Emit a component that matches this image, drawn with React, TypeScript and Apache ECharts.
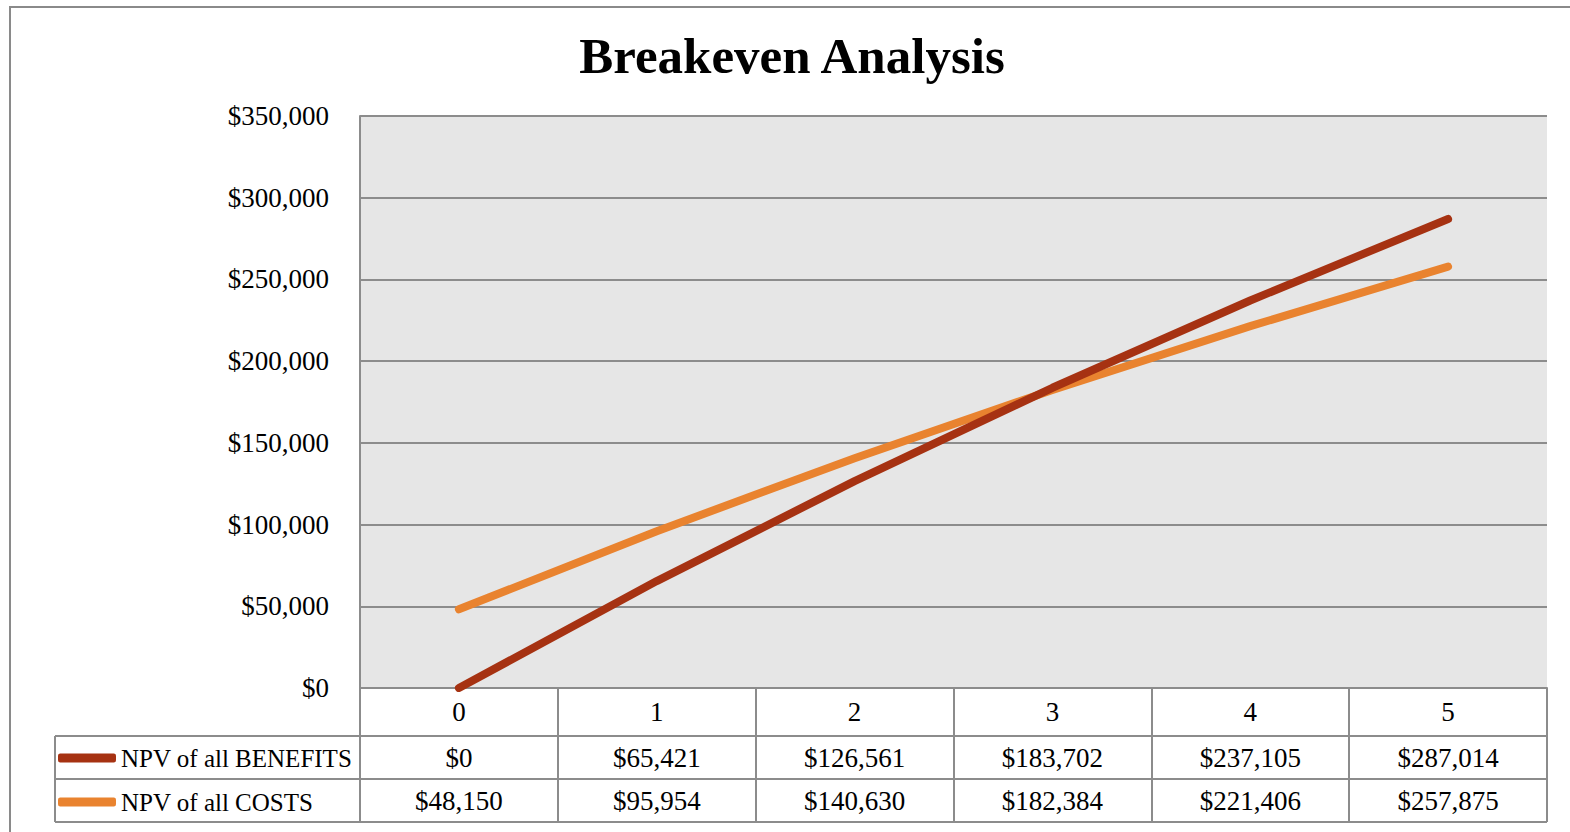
import React, { useEffect, useRef } from "react";
import * as echarts from "echarts";

const categories = ["0", "1", "2", "3", "4", "5"];
const benefitsName = "NPV of all BENEFITS";
const costsName = "NPV of all COSTS";
const benefits = [0, 65421, 126561, 183702, 237105, 287014];
const costs = [48150, 95954, 140630, 182384, 221406, 257875];
const yMin = 0;
const yMax = 350000;
const yInterval = 50000;

const FONT = "'Liberation Serif', 'Times New Roman', serif";
const BORDER = "#8c8c8c";
const C_BEN = "#a63212";
const C_COST = "#e9832f";

const fmt = (v: number) => "$" + v.toLocaleString("en-US");

// layout
const W = 1570;
const H = 832;
const GL = 360;
const GR = 1547;
const GT = 116;
const GB = 688;
const ROW0 = 48;
const ROW = 43;
const TABLE_LEFT = 55;

export default function App() {
  const ref = useRef<HTMLDivElement>(null);
  useEffect(() => {
    if (!ref.current) return;
    const chart = echarts.init(ref.current, undefined, { renderer: "svg" });
    const r1 = GB + ROW0;
    const r2 = r1 + ROW;
    const r3 = r2 + ROW;
    const lineStyle = { stroke: BORDER, lineWidth: 2 };
    const tableAxis = (data: string[], offset: number, len: number, margin: number) => ({
      type: "category",
      data,
      position: "bottom",
      offset,
      boundaryGap: true,
      axisLine: { show: true, lineStyle: { color: BORDER, width: 2 } },
      axisTick: { show: true, length: len, alignWithLabel: false, lineStyle: { color: BORDER, width: 2 } },
      axisLabel: {
        interval: 0,
        margin,
        verticalAlign: "middle",
        fontFamily: FONT,
        fontSize: 27,
        color: "#000",
      },
      splitLine: { show: false },
    });
    chart.setOption({
      animation: false,
      backgroundColor: "#ffffff",
      title: {
        text: "Breakeven Analysis",
        left: 792,
        textAlign: "center",
        top: 31,
        padding: 0,
        textStyle: { fontFamily: FONT, fontSize: 51, fontWeight: "bold", color: "#000", lineHeight: 50 },
      },
      legend: {
        data: [benefitsName, costsName],
        orient: "vertical",
        left: TABLE_LEFT + 3,
        top: r1 + ROW / 2 - 12,
        padding: 0,
        itemWidth: 58,
        itemHeight: 9,
        itemGap: ROW - 24,
        icon: "roundRect",
        textStyle: { fontFamily: FONT, fontSize: 25, lineHeight: 24, color: "#000" },
      },
      grid: {
        left: GL,
        right: W - GR,
        top: GT,
        bottom: H - GB,
        show: true,
        backgroundColor: "#e6e6e6",
        borderWidth: 0,
      },
      xAxis: [
        tableAxis(categories, 0, ROW0, ROW0 / 2),
        tableAxis(benefits.map(fmt), ROW0, ROW, ROW / 2),
        tableAxis(costs.map(fmt), ROW0 + ROW, ROW, ROW / 2),
      ],
      yAxis: {
        type: "value",
        min: yMin,
        max: yMax,
        interval: yInterval,
        axisLine: { show: true, lineStyle: { color: BORDER, width: 2 } },
        axisTick: { show: false },
        axisLabel: {
          formatter: (v: number) => fmt(v),
          margin: 31,
          fontFamily: FONT,
          fontSize: 27,
          color: "#000",
        },
        splitLine: { show: true, lineStyle: { color: BORDER, width: 2 } },
      },
      series: [
        {
          name: benefitsName,
          type: "line",
          data: benefits,
          xAxisIndex: 0,
          showSymbol: false,
          symbol: "none",
          color: C_BEN,
          lineStyle: { color: C_BEN, width: 8, cap: "round", join: "round" },
          itemStyle: { color: C_BEN },
          z: 3,
        },
        {
          name: costsName,
          type: "line",
          data: costs,
          xAxisIndex: 0,
          showSymbol: false,
          symbol: "none",
          color: C_COST,
          lineStyle: { color: C_COST, width: 8, cap: "round", join: "round" },
          itemStyle: { color: C_COST },
          z: 2,
        },
      ],
      graphic: [
        { type: "rect", silent: true, z: 100, shape: { x: 10, y: 7, width: 1700, height: 1000 }, style: { fill: "none", stroke: "#8a8a8a", lineWidth: 2 } },
        { type: "line", silent: true, z: 100, shape: { x1: TABLE_LEFT, y1: r1, x2: GL, y2: r1 }, style: lineStyle },
        { type: "line", silent: true, z: 100, shape: { x1: TABLE_LEFT, y1: r2, x2: GL, y2: r2 }, style: lineStyle },
        { type: "line", silent: true, z: 100, shape: { x1: TABLE_LEFT, y1: r3, x2: GR, y2: r3 }, style: lineStyle },
        { type: "line", silent: true, z: 100, shape: { x1: TABLE_LEFT, y1: r1, x2: TABLE_LEFT, y2: r3 }, style: lineStyle },
      ],
    });
    return () => chart.dispose();
  }, []);
  return (
    <div
      ref={ref}
      style={{ position: "absolute", left: 0, top: 0, width: W, height: H }}
    />
  );
}
